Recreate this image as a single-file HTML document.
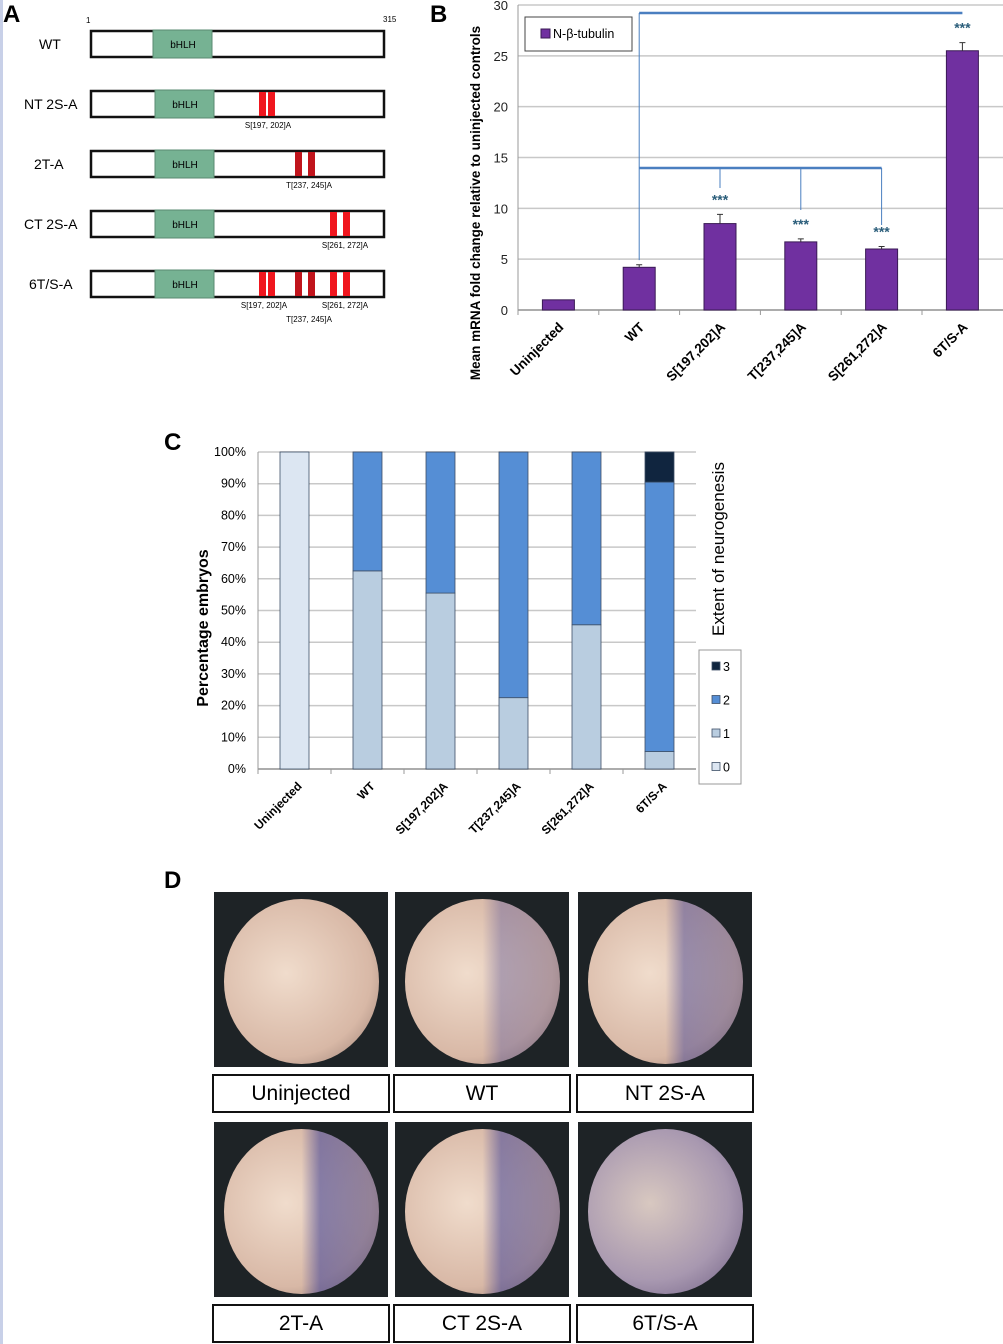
<!DOCTYPE html>
<html><head><meta charset="utf-8"><style>
body{margin:0;background:#fff;}
svg{display:block;font-family:"Liberation Sans",sans-serif;}
.photo{position:absolute;background:#1e2326;overflow:hidden;}
.egg{position:absolute;left:6%;top:4%;width:89%;height:94%;border-radius:50%;}
.lbl{position:absolute;border:2px solid #111;box-sizing:border-box;font:21px "Liberation Sans",sans-serif;text-align:center;background:#fff;}
</style></head><body>
<div style="position:relative;width:1003px;height:1344px;">
<div style="position:absolute;left:0;top:0;width:3px;height:1344px;background:#c8d0e8"></div>
<svg id="s" width="1003" height="900" style="position:absolute;left:0;top:0">
<text x="3" y="22" font-size="24" font-weight="bold">A</text>
<text x="86" y="23" font-size="8">1</text>
<text x="383" y="22" font-size="8">315</text>
<g id="pa"></g>
<text x="430" y="22" font-size="24" font-weight="bold">B</text>
<g id="pb"></g>
<text x="164" y="450" font-size="24" font-weight="bold">C</text>
<g id="pc"></g>
<text x="164" y="888" font-size="24" font-weight="bold">D</text>
</svg>
<div id="pd"></div>
</div>
<script>
const NS="http://www.w3.org/2000/svg";
function mk(p,t,a,txt){const e=document.createElementNS(NS,t);for(const k in a)e.setAttribute(k,a[k]);if(txt!==undefined)e.textContent=txt;p.appendChild(e);return e;}
// Panel A
const constructs=["WT","NT 2S-A","2T-A","CT 2S-A","6T/S-A"];
const sites=[[],[197,202],[237,245],[261,272],[197,202,237,245,261,272]];
const siteX={197:259,202:268,237:295,245:308,261:330,272:343};
const pa=document.getElementById('pa');
const labX=[39,24,34,24,29];
constructs.forEach((c,i)=>{
 const y=31+i*60;
 let t=mk(pa,'text',{x:labX[i],y:y+18,'font-size':14},c);
 
 let r=mk(pa,'rect',{x:91,y:y,width:293,height:26,fill:'#fff',stroke:'#111','stroke-width':2.5});
 
 let b=mk(pa,'rect',{x:i==0?153:155,y:y-1,width:59,height:28,fill:'#76b293',stroke:'#5a8a70'});
 
 let bt=mk(pa,'text',{x:i==0?183:185,y:y+17,'font-size':10,'text-anchor':'middle'},'bHLH');
 
 sites[i].forEach(s=>{
  const dark=(s==237||s==245);
  let m=mk(pa,'rect',{x:siteX[s],y:y+1,width:7,height:24,fill:dark?'#c0141c':'#f0161e'});
  
 });
});
const albl=[[268,1,"S[197, 202]A"],[309,2,"T[237, 245]A"],[345,3,"S[261, 272]A"],[264,4,"S[197, 202]A"],[345,4,"S[261, 272]A"]];
albl.forEach(a=>{let t=mk(pa,'text',{x:a[0],y:31+a[1]*60+37,'font-size':8,'text-anchor':'middle'},a[2]);});
{let t=mk(pa,'text',{x:309,y:322,'font-size':8,'text-anchor':'middle'},"T[237, 245]A");}

// Panel B
const bCats=["Uninjected","WT","S[197,202]A","T[237,245]A","S[261,272]A","6T/S-A"];
const bVals=[1,4.2,8.5,6.7,6.0,25.5];
const bErr=[0,0.25,0.9,0.3,0.25,0.8];
const bTicks=[0,5,10,15,20,25,30];
const pb=document.getElementById('pb');
const bx0=518,bslot=80.8,by=v=>310-v*(305/30);
const bc=i=>bx0+bslot*(i+0.5);
bTicks.forEach(v=>{
 let g=mk(pb,'line',{x1:bx0,x2:1003,y1:by(v),y2:by(v),stroke:'#c8c8c8','stroke-width':1.5});
 let t=mk(pb,'text',{x:bx0-10,y:by(v)+5,'font-size':13,'text-anchor':'end',fill:'#222'},v);
});
mk(pb,'line',{x1:bx0,x2:bx0,y1:by(30),y2:by(0),stroke:'#999'});
mk(pb,'line',{x1:bx0,x2:1003,y1:by(0),y2:by(0),stroke:'#999','stroke-width':1.5});
bCats.forEach((c,i)=>{
 let tk=mk(pb,'line',{x1:bx0+bslot*i,x2:bx0+bslot*i,y1:by(0),y2:by(0)+5,stroke:'#999'});
 let r=mk(pb,'rect',{x:bc(i)-16,y:by(bVals[i]),width:32,height:by(0)-by(bVals[i]),fill:'#7030a0',stroke:'#3a1a55'});
 if(bErr[i]>0){const ye=by(bVals[i]+bErr[i]);let e=mk(pb,'path',{d:`M${bc(i)},${by(bVals[i])}V${ye}M${bc(i)-3},${ye}H${bc(i)+3}`,stroke:'#333',fill:'none'});}
 let t=mk(pb,'text',{x:bc(i)+6,y:by(0)+18,'font-size':13.5,'font-weight':'bold','text-anchor':'end',transform:`rotate(-45 ${bc(i)+6} ${by(0)+18})`},c);
 if(i>=2){let s=mk(pb,'text',{x:bc(i),y:by(bVals[i]+bErr[i])-10,'font-size':14,'font-weight':'bold','text-anchor':'middle',fill:'#2a5d7a'},'***');}
});
const blue='#4a7fc0';
mk(pb,'path',{d:`M${bc(1)},13V${by(4.9)}`,stroke:blue,'stroke-width':1,fill:'none'});
mk(pb,'path',{d:`M${bc(1)},13H${bc(5)}`,stroke:blue,'stroke-width':2.5,fill:'none'});
mk(pb,'path',{d:`M${bc(1)},168H${bc(4)}`,stroke:blue,'stroke-width':2.5,fill:'none'});
mk(pb,'path',{d:`M${bc(2)},168V188M${bc(3)},168V210M${bc(4)},168V225`,stroke:blue,'stroke-width':1,fill:'none'});
mk(pb,'rect',{x:525,y:17,width:107,height:34,fill:'#fff',stroke:'#444'});
mk(pb,'rect',{x:541,y:29,width:9,height:9,fill:'#7030a0',stroke:'#3a1a55'});
mk(pb,'text',{x:553,y:38,'font-size':12.5},'N-β-tubulin');
{let t=mk(pb,'text',{x:480,y:203,'font-size':13.5,'font-weight':'bold','text-anchor':'middle',transform:'rotate(-90 480 203)'},'Mean mRNA fold change relative to uninjected controls');}

// Panel C
const cCats=["Uninjected","WT","S[197,202]A","T[237,245]A","S[261,272]A","6T/S-A"];
const c0=[100,0,0,0,0,0];
const c1=[0,62.5,55.5,22.5,45.5,5.5];
const c2=[0,37.5,44.5,77.5,54.5,85];
const c3=[0,0,0,0,0,9.5];
const cTicks=[0,10,20,30,40,50,60,70,80,90,100];
const cCols=['#dce6f2','#b9cde0','#558ed5','#10253f'];
const pc=document.getElementById('pc');
const cx0=258,cslot=73,cy=v=>769-v*3.17;
cTicks.forEach(v=>{
 let g=mk(pc,'line',{x1:cx0,x2:696,y1:cy(v),y2:cy(v),stroke:'#c8c8c8','stroke-width':1.5});
 let t=mk(pc,'text',{x:cx0-12,y:cy(v)+4,'font-size':12.5,'text-anchor':'end'},v+'%');
});
mk(pc,'line',{x1:cx0,x2:cx0,y1:cy(100),y2:cy(0),stroke:'#999'});
mk(pc,'line',{x1:cx0,x2:696,y1:cy(0),y2:cy(0),stroke:'#999','stroke-width':1.5});
cCats.forEach((c,i)=>{
 let tk=mk(pc,'line',{x1:cx0+cslot*i,x2:cx0+cslot*i,y1:cy(0),y2:cy(0)+5,stroke:'#999'});
 let base=0;[c0,c1,c2,c3].forEach((s,k)=>{if(s[i]>0){const x=cx0+cslot*(i+0.5)-14.5;let r=mk(pc,'rect',{x:x,y:cy(base+s[i]),width:29,height:cy(base)-cy(base+s[i]),fill:cCols[k],stroke:'#3e4f66','stroke-width':0.8});base+=s[i];}});
 const lx=cx0+cslot*(i+0.5)+8;
 let t=mk(pc,'text',{x:lx,y:cy(0)+18,'font-size':12,'font-weight':'bold','text-anchor':'end',transform:`rotate(-45 ${lx} ${cy(0)+18})`},c);
});
mk(pc,'rect',{x:699,y:650,width:42,height:134,fill:'#fff',stroke:'#999'});
['3','2','1','0'].forEach((l,j)=>{const k=3-j;const y=662+j*33.5;
 let sw=mk(pc,'rect',{x:712,y:y,width:8,height:8,fill:cCols[k],stroke:'#3e4f66','stroke-width':0.8});
 let t=mk(pc,'text',{x:723,y:y+9,'font-size':12.5},l);});
{let t=mk(pc,'text',{x:208,y:628,'font-size':16,'font-weight':'bold','text-anchor':'middle',transform:'rotate(-90 208 628)'},'Percentage embryos');}
{let t=mk(pc,'text',{x:724,y:549,'font-size':17,'text-anchor':'middle',transform:'rotate(-90 724 549)'},'Extent of neurogenesis');}

// Panel D
const dNames=["Uninjected","WT","NT 2S-A","2T-A","CT 2S-A","6T/S-A"];
const dStain=[0,0.5,0.7,0.85,0.8,0.9];
const dX=[214,395,578],dY=[892,1122];
const pd=document.getElementById('pd');
dNames.forEach((n,i)=>{
 const col=i%3,row=Math.floor(i/3);
 const p=document.createElement('div');p.className='photo';
 
 
 p.style.cssText=`left:${dX[col]}px;top:${dY[row]}px;width:174px;height:175px;`;
 const e=document.createElement('div');e.className='egg';
 
 
 const s=dStain[i];
 e.style.background=i==5?`radial-gradient(ellipse at 40% 45%, #d8c8c0 0%, #a898b0 60%, #6a5a80 100%)`:
  `linear-gradient(90deg, rgba(0,0,0,0) 50%, rgba(70,70,150,${s*0.7}) 62%, rgba(60,60,130,${s*0.5}) 100%), radial-gradient(ellipse at 40% 45%, #f0dccc 0%, #d8b8a6 65%, #8a7068 100%)`;
 p.appendChild(e);pd.appendChild(p);
 const l=document.createElement('div');l.className='lbl';
 
 
 l.style.cssText=`left:${dX[col]-2}px;top:${dY[row]+182}px;width:178px;height:39px;line-height:36px;`;
 l.textContent=n;pd.appendChild(l);
});
</script>
</body></html>
